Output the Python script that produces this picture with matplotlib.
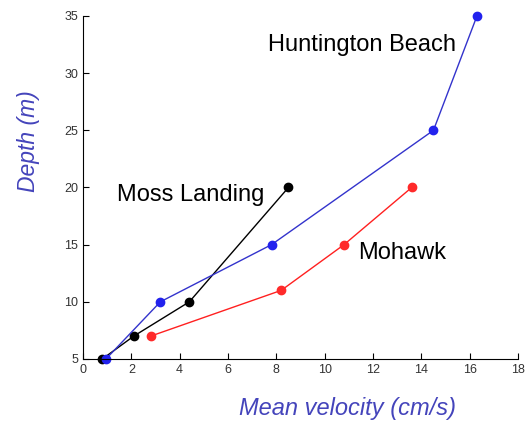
import matplotlib.pyplot as plt

# depth profiles of mean velocity at three sites
hb_vel = [0.95, 3.2, 7.8, 14.5, 16.3]
hb_depth = [5, 10, 15, 25, 35]

ml_vel = [0.8, 2.1, 4.4, 8.5]
ml_depth = [5, 7, 10, 20]

mo_vel = [2.8, 8.2, 10.8, 13.6]
mo_depth = [7, 11, 15, 20]

plt.rcParams['font.family'] = ['Liberation Sans', 'DejaVu Sans']

fig = plt.figure(figsize=(5.27, 4.32), dpi=100)
ax = fig.add_axes([0.1575, 0.169, 0.8255, 0.794])

# black first so the blue dot at 5 m sits on top
ax.plot(ml_vel, ml_depth, '-', color='black', lw=1, clip_on=False,
        marker='o', ms=6, mfc='black', mec='black')
ax.plot(mo_vel, mo_depth, '-', color='#ff2020', lw=1, clip_on=False,
        marker='o', ms=6, mfc='#ff2a2a', mec='#ff2a2a')
ax.plot(hb_vel, hb_depth, '-', color='#3333cc', lw=1, clip_on=False,
        marker='o', ms=6, mfc='#2222ee', mec='#2222ee')

ax.text(7.65, 32.5, 'Huntington Beach', fontsize=17, va='center')
ax.text(1.4, 19.3, 'Moss Landing', fontsize=17, va='center')
ax.text(11.4, 14.3, 'Mohawk', fontsize=17, va='center')

ax.set_xlim(0, 18)
ax.set_ylim(5, 35)
ax.set_xticks(range(0, 19, 2))
ax.set_yticks(range(5, 36, 5))
ax.tick_params(direction='in', length=4, labelsize=9, labelcolor='#333333')

for s in ['top', 'right']:
    ax.spines[s].set_visible(False)

lab_col = '#4444bb'
ax.set_xlabel('Mean velocity (cm/s)', fontsize=17, style='italic', color=lab_col)
ax.set_ylabel('Depth (m)', fontsize=16.5, style='italic', color=lab_col)
ax.xaxis.set_label_coords(0.607, -0.112)
ax.yaxis.set_label_coords(-0.098, 0.636)

fig.savefig('out.png', dpi=100)
